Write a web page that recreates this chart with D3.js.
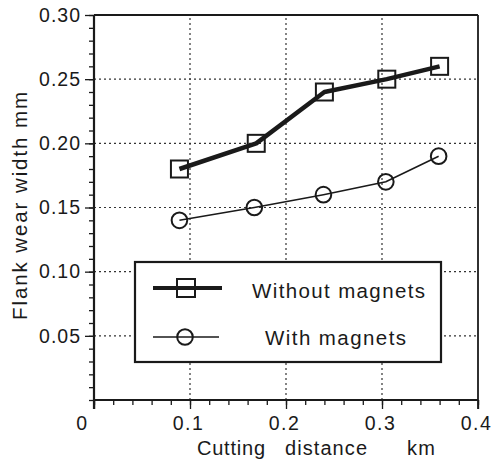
<!DOCTYPE html>
<html>
<head>
<meta charset="utf-8">
<script src="https://cdn.jsdelivr.net/npm/d3@7"></script>
<style>
  body { margin: 0; background: #fff; }
  svg text { font-family: "Liberation Sans", Arial, sans-serif; fill: #1a1a1a; }
</style>
</head>
<body>
<div id="chart"></div>
<script>
// Data
var seriesNames = ["Without magnets", "With magnets"];
var withoutX = [0.089, 0.169, 0.240, 0.305, 0.360];
var withoutY = [0.18, 0.20, 0.24, 0.25, 0.26];
var withX = [0.089, 0.167, 0.239, 0.304, 0.359];
var withY = [0.14, 0.15, 0.16, 0.17, 0.19];
var xTicks = [0, 0.1, 0.2, 0.3, 0.4];
var yTicks = [0.05, 0.10, 0.15, 0.20, 0.25, 0.30];

// Chart size
var svgWidth = 495;
var svgHeight = 464;

var svg = d3.select("#chart")
    .append("svg")
    .attr("width", svgWidth)
    .attr("height", svgHeight);

var x = d3.scaleLinear().domain([0, 0.4]).range([94, 478]);
var y = d3.scaleLinear().domain([0, 0.30]).range([400, 15]);

var ink = "#1a1a1a";

// Grid (dotted)
var grid = svg.append("g");
grid.selectAll("line.gx")
    .data(xTicks.slice(1, 4))
    .enter().append("line")
    .attr("x1", d => x(d)).attr("x2", d => x(d))
    .attr("y1", y(0)).attr("y2", y(0.30))
    .attr("stroke", "#333").attr("stroke-width", 1.2)
    .attr("stroke-dasharray", "2,3");
grid.selectAll("line.gy")
    .data(yTicks.slice(0, 5))
    .enter().append("line")
    .attr("x1", x(0)).attr("x2", x(0.4))
    .attr("y1", d => y(d)).attr("y2", d => y(d))
    .attr("stroke", "#333").attr("stroke-width", 1.2)
    .attr("stroke-dasharray", "2,3");

// Minor ticks
var yMinor = d3.range(0, 31).map(d => d / 100);
var xMinor = d3.range(0, 21).map(d => d / 50);

var yMinorAxis = svg.append("g")
    .attr("transform", `translate(${x(0)},0)`)
    .call(d3.axisLeft(y).tickValues(yMinor).tickSize(5).tickFormat(""));
var xMinorAxis = svg.append("g")
    .attr("transform", `translate(0,${y(0)})`)
    .call(d3.axisBottom(x).tickValues(xMinor).tickSize(5).tickFormat(""));

// Major ticks with labels
var yAxis = svg.append("g")
    .attr("transform", `translate(${x(0)},0)`)
    .call(d3.axisLeft(y).tickValues(yTicks).tickSize(9).tickPadding(4).tickFormat(d3.format(".2f")));
var xAxis = svg.append("g")
    .attr("transform", `translate(0,${y(0)})`)
    .call(d3.axisBottom(x).tickValues(xTicks).tickSize(9).tickPadding(2)
        .tickFormat(d => d === 0 ? "0" : d3.format(".1f")(d)));

[yMinorAxis, xMinorAxis, yAxis, xAxis].forEach(a => {
    a.select(".domain").remove();
    a.selectAll("line").attr("stroke", ink).attr("stroke-width", 1.3);
});
yAxis.selectAll("text")
    .style("font-size", "19.5px")
    .style("letter-spacing", "1px")
    .attr("fill", ink)
    .attr("x", -13);
xAxis.selectAll("text")
    .style("font-size", "19.5px")
    .style("letter-spacing", "1.5px")
    .attr("fill", ink)
    .attr("dy", "0.95em")
    .attr("dx", d => d === 0 ? -12 : -2);

// Frame
svg.append("line").attr("x1", x(0)).attr("x2", x(0)).attr("y1", y(0.30)).attr("y2", y(0) + 9)
    .attr("stroke", ink).attr("stroke-width", 2.2);
svg.append("line").attr("x1", x(0)).attr("x2", x(0.4)).attr("y1", y(0)).attr("y2", y(0))
    .attr("stroke", ink).attr("stroke-width", 2.2);
svg.append("line").attr("x1", x(0)).attr("x2", x(0.4)).attr("y1", y(0.30)).attr("y2", y(0.30))
    .attr("stroke", ink).attr("stroke-width", 1.8);
svg.append("line").attr("x1", x(0.4)).attr("x2", x(0.4)).attr("y1", y(0.30)).attr("y2", y(0) + 9)
    .attr("stroke", ink).attr("stroke-width", 1.8);

// Axis titles
var xTitle = [["Cutting", 197, 68], ["distance", 285, 82], ["km", 407, 28]];
xTitle.forEach(t => {
    svg.append("text")
        .attr("x", t[1]).attr("y", 455)
        .attr("textLength", t[2]).attr("lengthAdjust", "spacing")
        .style("font-size", "20px")
        .text(t[0]);
});
svg.append("text")
    .attr("transform", "translate(27,206) rotate(-90)")
    .attr("text-anchor", "middle")
    .attr("textLength", 228).attr("lengthAdjust", "spacing")
    .style("font-size", "20.5px")
    .text("Flank wear width mm");

// Legend
var legend = svg.append("g");
legend.append("rect")
    .attr("x", 135).attr("y", 262).attr("width", 306).attr("height", 100)
    .attr("fill", "#fff").attr("stroke", ink).attr("stroke-width", 2.2);

legend.append("line").attr("x1", 153).attr("x2", 222).attr("y1", 288).attr("y2", 288)
    .attr("stroke", ink).attr("stroke-width", 4);
legend.append("rect").attr("x", 177).attr("y", 279).attr("width", 18).attr("height", 18)
    .attr("fill", "none").attr("stroke", ink).attr("stroke-width", 2);
legend.append("line").attr("x1", 153).attr("x2", 219).attr("y1", 337).attr("y2", 337)
    .attr("stroke", ink).attr("stroke-width", 1.6);
legend.append("circle").attr("cx", 185).attr("cy", 337).attr("r", 7.8)
    .attr("fill", "none").attr("stroke", ink).attr("stroke-width", 2);

legend.append("text").attr("x", 252).attr("y", 298)
    .attr("textLength", 173).attr("lengthAdjust", "spacing")
    .style("font-size", "20.5px")
    .text("Without  magnets");
legend.append("text").attr("x", 265).attr("y", 345)
    .attr("textLength", 141).attr("lengthAdjust", "spacing")
    .style("font-size", "20.5px")
    .text("With  magnets");

// Series
var withoutData = withoutX.map((d, i) => ({ x: d, y: withoutY[i] }));
var withData = withX.map((d, i) => ({ x: d, y: withY[i] }));

var line = d3.line().x(d => x(d.x)).y(d => y(d.y));

svg.append("path").datum(withoutData)
    .attr("d", line).attr("fill", "none")
    .attr("stroke", ink).attr("stroke-width", 4.5).attr("stroke-linejoin", "round");
svg.append("path").datum(withData)
    .attr("d", line).attr("fill", "none")
    .attr("stroke", ink).attr("stroke-width", 1.6);

svg.selectAll("rect.sq")
    .data(withoutData).enter().append("rect")
    .attr("class", "sq")
    .attr("x", d => x(d.x) - 8.5).attr("y", d => y(d.y) - 8.5)
    .attr("width", 17).attr("height", 17)
    .attr("fill", "none").attr("stroke", ink).attr("stroke-width", 2);

svg.selectAll("circle.ci")
    .data(withData).enter().append("circle")
    .attr("class", "ci")
    .attr("cx", d => x(d.x)).attr("cy", d => y(d.y)).attr("r", 7.8)
    .attr("fill", "none").attr("stroke", ink).attr("stroke-width", 2);
</script>
</body>
</html>
